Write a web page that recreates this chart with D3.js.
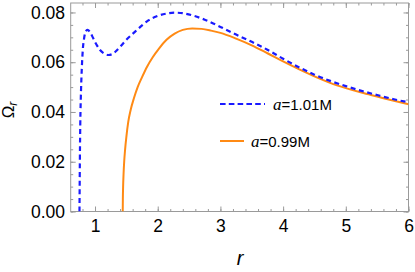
<!DOCTYPE html>
<html>
<head>
<meta charset="utf-8">
<script src="https://cdn.jsdelivr.net/npm/d3@7"></script>
<style>
  body { margin: 0; background: #fff; }
  svg { display: block; }
</style>
</head>
<body>
<svg id="chart" width="415" height="272"></svg>
<script>
// a = 1.01M (dashed blue)
const blueR = [0.752, 0.755, 0.758, 0.762, 0.768, 0.777, 0.79, 0.805, 0.825, 0.85, 0.877, 0.90, 0.93, 0.97,
  1.02, 1.08, 1.15, 1.212, 1.27, 1.32, 1.40, 1.50, 1.64, 1.75, 1.85, 2.0, 2.15, 2.276, 2.4, 2.57, 2.75,
  3.0, 3.25, 3.5, 3.75, 4.0, 4.25, 4.5, 4.75, 5.0, 5.25, 5.5, 5.75, 6.0];
const blueOmega = [0.0, 0.010, 0.020, 0.030, 0.040, 0.049, 0.058, 0.065, 0.0695, 0.0722, 0.0730, 0.0727, 0.0717, 0.0697,
  0.0672, 0.0649, 0.0634, 0.0629, 0.0632, 0.0641, 0.0662, 0.0690, 0.0723, 0.0748, 0.0768, 0.0786, 0.0796, 0.0799, 0.0797, 0.0787, 0.0771,
  0.0742, 0.0711, 0.0682, 0.0650, 0.0614, 0.0580, 0.0550, 0.0525, 0.0504, 0.0485, 0.0468, 0.0452, 0.0439];

// a = 0.99M (solid orange)
const orangeR = [1.442, 1.444, 1.448, 1.455, 1.465, 1.48, 1.50, 1.53, 1.57, 1.62, 1.68, 1.75, 1.83, 1.92, 2.02,
  2.14, 2.27, 2.40, 2.55, 2.70, 2.85, 3.0, 3.25, 3.5, 3.75, 4.0, 4.25, 4.5, 4.75, 5.0, 5.25, 5.5, 5.75, 6.0];
const orangeOmega = [0.0, 0.005, 0.010, 0.015, 0.020, 0.025, 0.030, 0.036, 0.041, 0.0455, 0.0500, 0.0540, 0.0582, 0.0620, 0.0655,
  0.0690, 0.0715, 0.0730, 0.0736, 0.0734, 0.0727, 0.0718, 0.0695, 0.0668, 0.0636, 0.0603, 0.0572, 0.0543, 0.0517, 0.0496, 0.0478, 0.0462, 0.0446, 0.0431];

const xTicks = [1, 2, 3, 4, 5, 6];
const xMinor = d3.range(0.8, 6.01, 0.2);
const yTicks = [0, 0.02, 0.04, 0.06, 0.08];
const yMinor = d3.range(0, 0.0836, 0.005);
const legendLabels = ["=1.01M", "=0.99M"];

const margin = {top: 3, right: 6.5, bottom: 60.5, left: 70.7};
const width = 415, height = 272;
const frameColor = "#9a9a9a";
const blue = "#1a1aff", orange = "#ff8a14";

const svg = d3.select("#chart");

const x = d3.scaleLinear().domain([0.612, 6]).range([margin.left, width - margin.right]);
const y = d3.scaleLinear().domain([0, 0.0838]).range([height - margin.bottom, margin.top]);

// frame
svg.append("rect")
  .attr("x", margin.left)
  .attr("y", margin.top)
  .attr("width", width - margin.right - margin.left)
  .attr("height", height - margin.bottom - margin.top)
  .attr("fill", "none")
  .attr("stroke", frameColor)
  .attr("stroke-width", 1);

function styleAxis(g, showText) {
  g.select(".domain").remove();
  g.selectAll(".tick line").attr("stroke", frameColor);
  g.selectAll(".tick text")
    .attr("fill", "#000")
    .attr("font-family", "'Liberation Sans', Arial, sans-serif")
    .attr("font-size", "17.5px")
    .style("display", showText ? null : "none");
}

// bottom + top axes
svg.append("g")
  .attr("transform", "translate(0," + y(0) + ")")
  .call(d3.axisBottom(x).tickValues(xMinor).tickSize(-2.5).tickFormat(""))
  .call(g => styleAxis(g, false));
svg.append("g")
  .attr("transform", "translate(0," + y(0) + ")")
  .call(d3.axisBottom(x).tickValues(xTicks).tickSize(-5).tickPadding(8.5).tickFormat(d3.format("d")))
  .call(g => styleAxis(g, true));
svg.append("g")
  .attr("transform", "translate(0," + margin.top + ")")
  .call(d3.axisTop(x).tickValues(xMinor).tickSize(-2.5).tickFormat(""))
  .call(g => styleAxis(g, false));
svg.append("g")
  .attr("transform", "translate(0," + margin.top + ")")
  .call(d3.axisTop(x).tickValues(xTicks).tickSize(-5).tickFormat(""))
  .call(g => styleAxis(g, false));

// left + right axes
svg.append("g")
  .attr("transform", "translate(" + margin.left + ",0)")
  .call(d3.axisLeft(y).tickValues(yMinor).tickSize(-2.5).tickFormat(""))
  .call(g => styleAxis(g, false));
svg.append("g")
  .attr("transform", "translate(" + margin.left + ",0)")
  .call(d3.axisLeft(y).tickValues(yTicks).tickSize(-5).tickPadding(5.7).tickFormat(d3.format(".2f")))
  .call(g => styleAxis(g, true));
svg.append("g")
  .attr("transform", "translate(" + (width - margin.right) + ",0)")
  .call(d3.axisRight(y).tickValues(yMinor).tickSize(-2.5).tickFormat(""))
  .call(g => styleAxis(g, false));
svg.append("g")
  .attr("transform", "translate(" + (width - margin.right) + ",0)")
  .call(d3.axisRight(y).tickValues(yTicks).tickSize(-5).tickFormat(""))
  .call(g => styleAxis(g, false));

// curves
const plot = svg.append("g");
svg.append("clipPath").attr("id", "clip")
  .append("rect")
  .attr("x", margin.left).attr("y", margin.top)
  .attr("width", width - margin.right - margin.left)
  .attr("height", height - margin.bottom - margin.top);
plot.attr("clip-path", "url(#clip)");

const line = d3.line()
  .x(d => x(d[0]))
  .y(d => y(d[1]))
  .curve(d3.curveMonotoneX);

plot.append("path")
  .attr("d", line(d3.zip(orangeR, orangeOmega)))
  .attr("fill", "none")
  .attr("stroke", orange)
  .attr("stroke-width", 2);

plot.append("path")
  .attr("d", line(d3.zip(blueR, blueOmega)))
  .attr("fill", "none")
  .attr("stroke", blue)
  .attr("stroke-width", 2.2)
  .style("stroke-dasharray", "5,3.6");

// legend
const legend = svg.append("g");
legend.append("line")
  .attr("x1", 220).attr("x2", 265).attr("y1", 104).attr("y2", 104)
  .attr("stroke", blue).attr("stroke-width", 2.2)
  .style("stroke-dasharray", "5.6,3.2");
legend.append("line")
  .attr("x1", 220).attr("x2", 244).attr("y1", 141).attr("y2", 141)
  .attr("stroke", orange).attr("stroke-width", 2);

[[273, 109.5, legendLabels[0]], [251, 146.5, legendLabels[1]]].forEach(([tx, ty, label]) => {
  const t = legend.append("text")
    .attr("x", tx).attr("y", ty)
    .attr("font-family", "'Liberation Sans', Arial, sans-serif")
    .attr("font-size", "15px")
    .attr("fill", "#000");
  t.append("tspan")
    .attr("font-family", "'Liberation Serif', serif")
    .attr("font-style", "italic")
    .attr("font-size", "17px")
    .text("a");
  t.append("tspan").text(label);
});

// axis titles
svg.append("text")
  .attr("x", 240).attr("y", 265)
  .attr("text-anchor", "middle")
  .attr("font-family", "'Liberation Sans', Arial, sans-serif")
  .attr("font-style", "italic")
  .attr("font-size", "20px")
  .text("r");

const yTitle = svg.append("text")
  .attr("transform", "translate(14,110) rotate(-90)")
  .attr("text-anchor", "middle")
  .attr("font-family", "'Liberation Sans', Arial, sans-serif")
  .attr("font-size", "17px");
yTitle.append("tspan").text("Ω");
yTitle.append("tspan")
  .attr("font-style", "italic")
  .attr("font-size", "12px")
  .attr("dy", "3")
  .text("r");
</script>
</body>
</html>
